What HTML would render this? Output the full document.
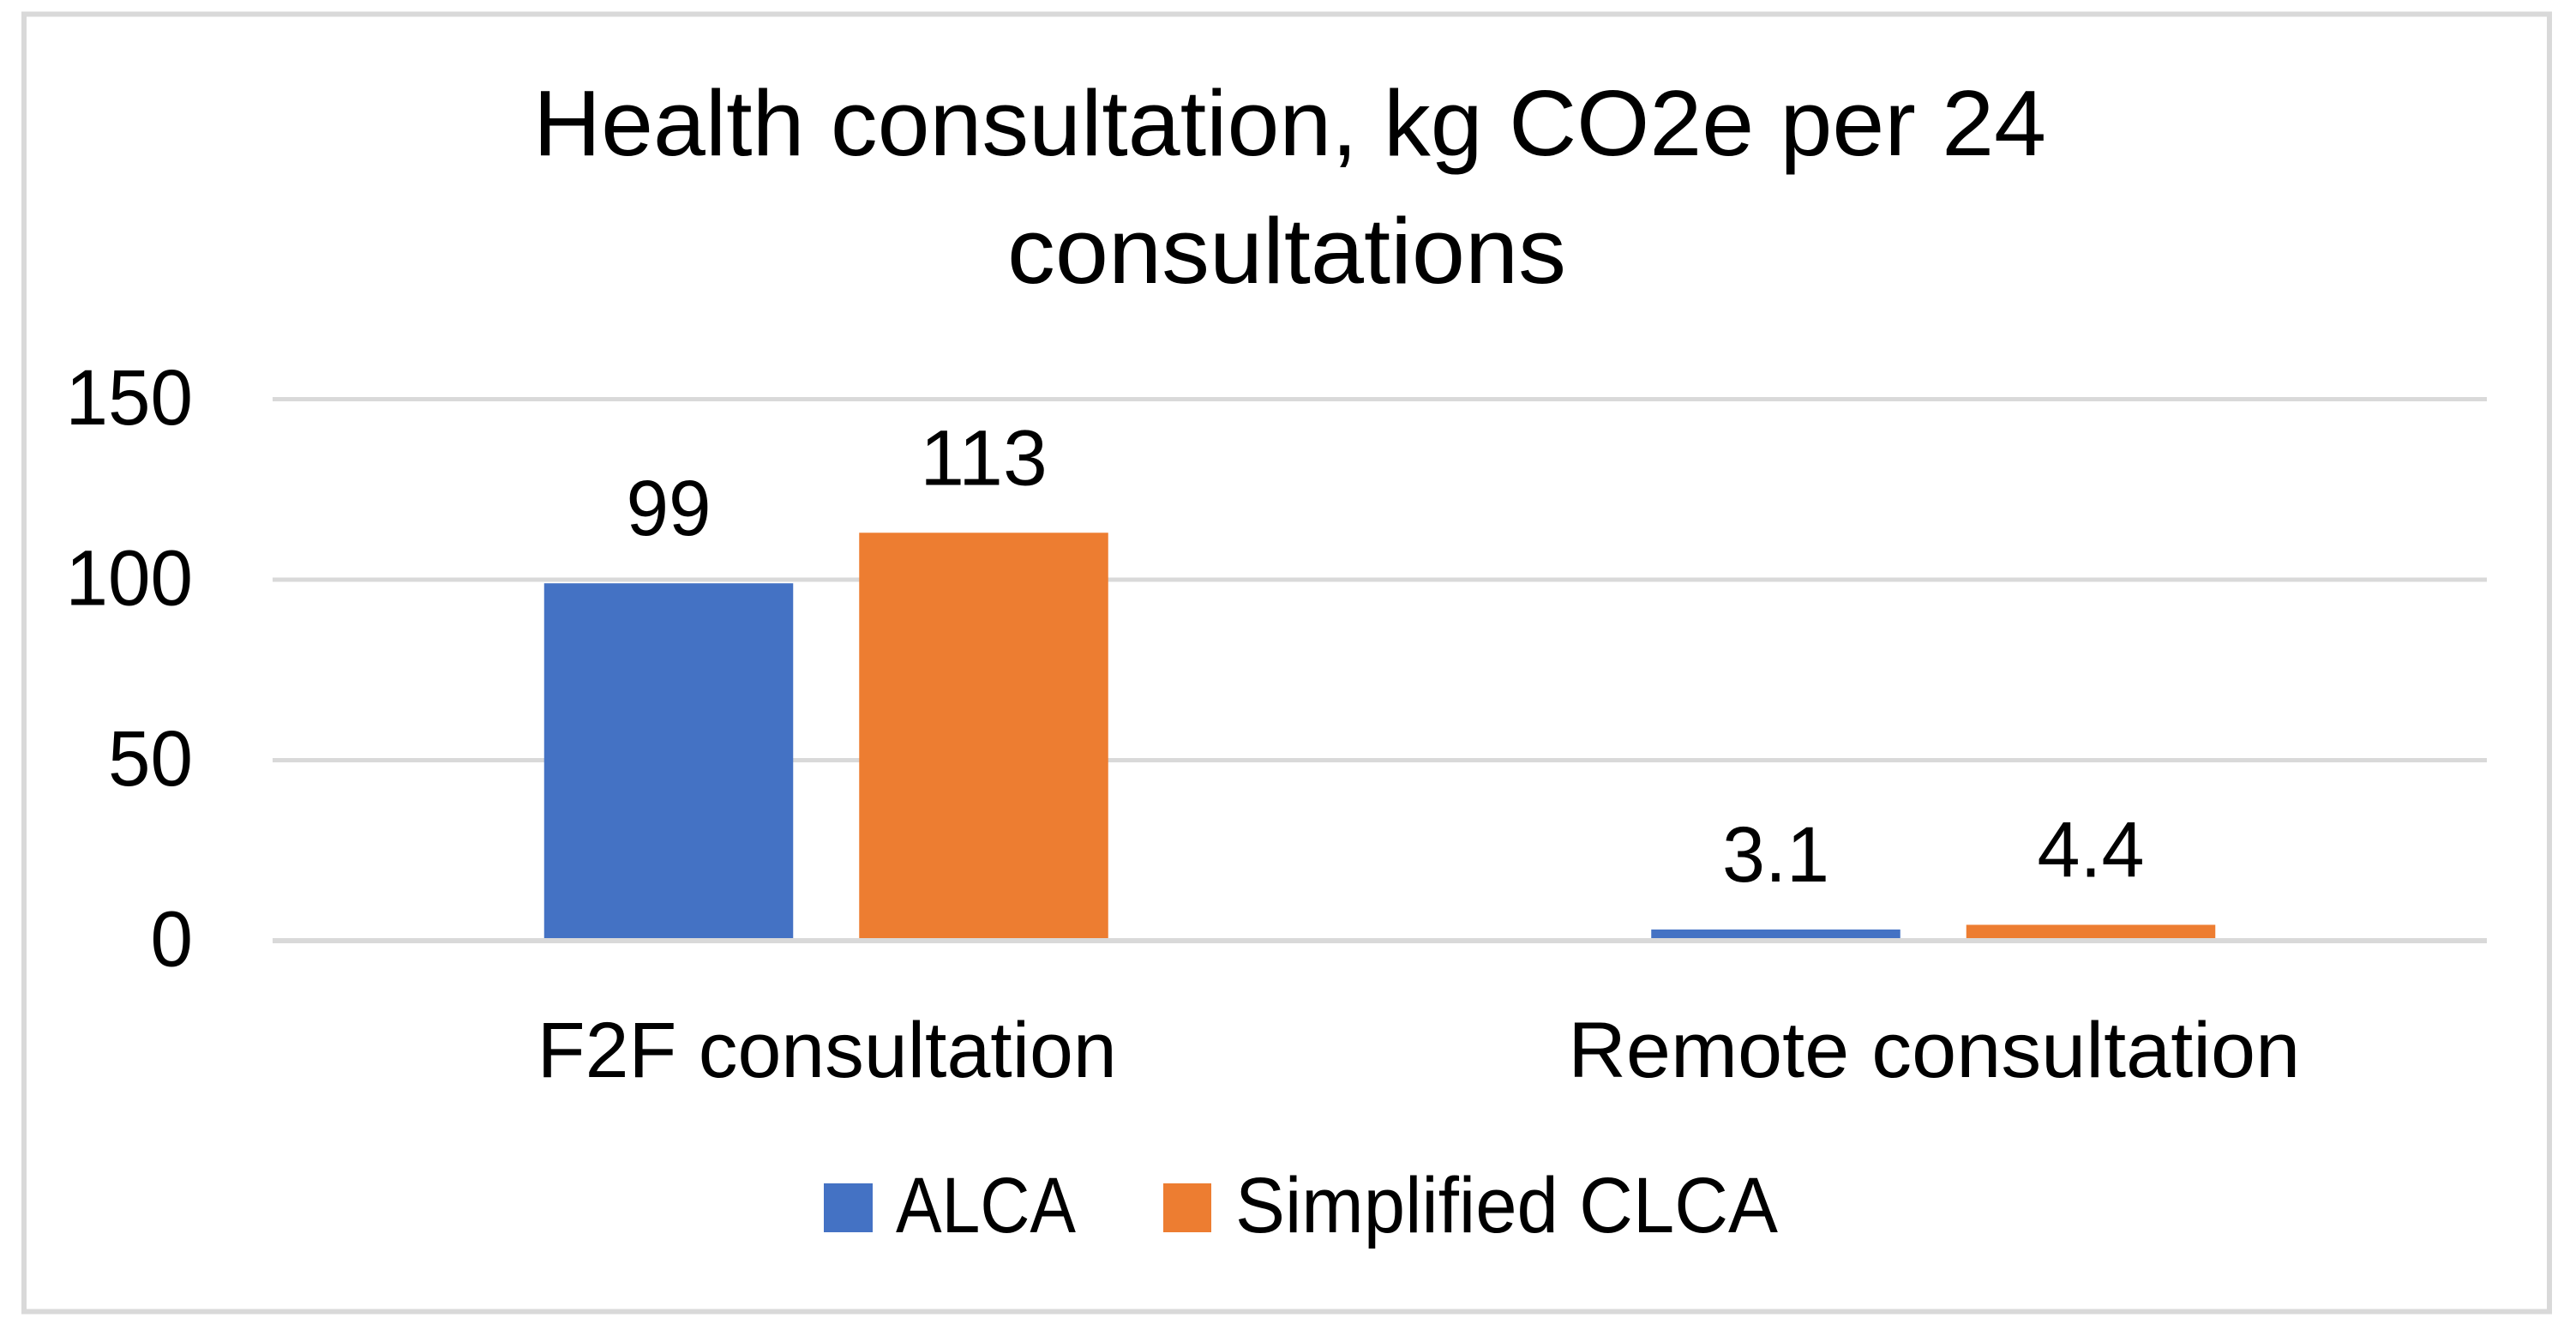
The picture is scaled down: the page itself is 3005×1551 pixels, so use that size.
<!DOCTYPE html>
<html>
<head>
<meta charset="utf-8">
<title>Health consultation chart</title>
<style>
html,body{margin:0;padding:0;background:#fff;}
svg{display:block;}
text{font-family:"Liberation Sans",sans-serif;fill:#000;}
</style>
</head>
<body>
<svg id="chart" xmlns="http://www.w3.org/2000/svg" width="3005" height="1551" viewBox="0 0 3005 1551">
<rect x="0" y="0" width="3005" height="1551" fill="#ffffff"/>
<rect x="28" y="16.5" width="2946" height="1513" fill="#ffffff" stroke="#d9d9d9" stroke-width="6"/>
<text x="622" y="181" font-size="109" textLength="1765" lengthAdjust="spacingAndGlyphs">Health consultation, kg CO2e per 24</text>
<text x="1175" y="330" font-size="109" textLength="652" lengthAdjust="spacingAndGlyphs">consultations</text>
<g id="grid"></g>
<g id="bars"></g>
<g id="labels"></g>
<rect x="961" y="1380" width="57" height="57" fill="#4472c4"/>
<text x="1045" y="1437" font-size="92" textLength="210" lengthAdjust="spacingAndGlyphs">ALCA</text>
<rect x="1357" y="1380" width="56" height="57" fill="#ed7d31"/>
<text x="1441" y="1437" font-size="92" textLength="633" lengthAdjust="spacingAndGlyphs">Simplified CLCA</text>
</svg>
<script>
const categories = ["F2F consultation", "Remote consultation"];
const alcaValues = [99, 3.1];
const clcaValues = [113, 4.4];
const alcaLabels = ["99", "3.1"];
const clcaLabels = ["113", "4.4"];
const yTicks = [0, 50, 100, 150];

const NS = "http://www.w3.org/2000/svg";
const plotLeft = 318, plotRight = 2901, zeroY = 1097, pxPerUnit = 4.21;
const barWidth = 290.5, barGap = 77;
const y = v => zeroY - v * pxPerUnit;
const catCenter = i => plotLeft + (plotRight - plotLeft) * (i + 0.5) / categories.length;

function make(tag, attrs, parent, content) {
  const el = document.createElementNS(NS, tag);
  for (const k in attrs) el.setAttribute(k, attrs[k]);
  if (content !== undefined) el.textContent = content;
  parent.appendChild(el);
  return el;
}
function labelWidth(s) {
  let w = 0;
  for (const c of s) w += c === "." ? 26 : 49.5;
  return w;
}
const grid = document.getElementById("grid");
const bars = document.getElementById("bars");
const labels = document.getElementById("labels");

yTicks.forEach(t => {
  if (t !== 0) {
    const g = make("rect", {x: plotLeft, y: y(t) - 2.5, width: plotRight - plotLeft, height: 5, fill: "#d9d9d9"}, grid);
    
    
  }
  const s = String(t);
  const lab = make("text", {x: 225, y: y(t) + 29.5, "font-size": 92, "text-anchor": "end", textLength: labelWidth(s), lengthAdjust: "spacingAndGlyphs"}, labels, s);
  
  
});

function drawSeries(values, texts, side, color, seriesName) {
  values.forEach((v, i) => {
    const cx = catCenter(i) + side * (barWidth + barGap) / 2;
    const top = y(v);
    const b = make("rect", {x: cx - barWidth / 2, y: top, width: barWidth, height: zeroY - top, fill: color}, bars);
    
    
    const t = make("text", {x: cx, y: top - 56, "font-size": 92, "text-anchor": "middle", textLength: labelWidth(texts[i]), lengthAdjust: "spacingAndGlyphs"}, labels, texts[i]);
    
    
  });
}
drawSeries(alcaValues, alcaLabels, -1, "#4472c4", "alca");
drawSeries(clcaValues, clcaLabels, 1, "#ed7d31", "simplified-clca");

const axis = make("rect", {x: plotLeft, y: zeroY - 3, width: plotRight - plotLeft, height: 6, fill: "#d9d9d9"}, labels);



const catWidths = [676, 854];
categories.forEach((c, i) => {
  const t = make("text", {x: catCenter(i) + 1, y: 1256, "font-size": 92, "text-anchor": "middle", textLength: catWidths[i], lengthAdjust: "spacingAndGlyphs"}, labels, c);
  
  
});
</script>
</body>
</html>
